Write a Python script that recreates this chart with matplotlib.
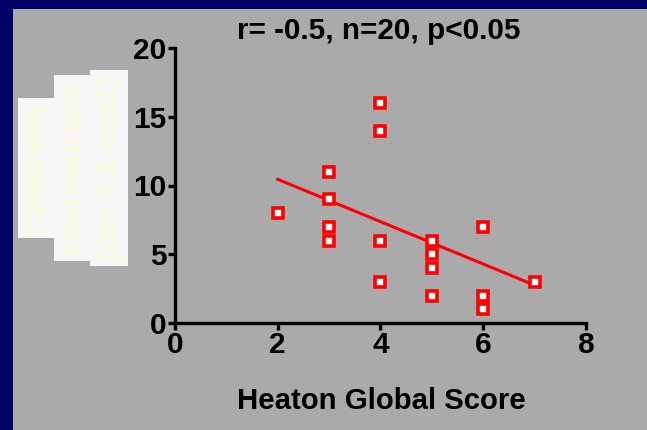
import matplotlib.pyplot as plt

plt.rcParams["font.family"] = ["Liberation Sans", "DejaVu Sans"]
plt.rcParams["font.weight"] = "bold"

heaton_score = [2, 3, 3, 3, 3, 4, 4, 4, 4, 5, 5, 5, 5, 6, 6, 6, 7]
calbindin = [8, 11, 9, 7, 6, 16, 14, 6, 3, 6, 5, 4, 2, 7, 2, 1, 3]
fit_x = [2, 7]
fit_y = [10.45, 2.75]
x_ticks = [0, 2, 4, 6, 8]
y_ticks = [0, 5, 10, 15, 20]
ylabel_lines = ["Calbindin", "Interneurons", "(per 0.1 mm2)"]

fig = plt.figure(figsize=(6.47, 4.30), dpi=100)
fig.patch.set_facecolor("#aaaaaa")
# navy frame on the top and left edges
fig.add_artist(plt.Rectangle((0, 1 - 9 / 430), 1, 9 / 430, transform=fig.transFigure,
                             facecolor="#000066", edgecolor="none"))
fig.add_artist(plt.Rectangle((0, 0), 13 / 647, 1, transform=fig.transFigure,
                             facecolor="#000066", edgecolor="none"))

ax = fig.add_axes([175 / 647, 1 - 323 / 430, 411 / 647, 275 / 430])
ax.set_facecolor("none")

ax.plot(fit_x, fit_y, color="red", lw=2.2, zorder=2)
ax.plot(heaton_score, calbindin, "s", ms=7.5, mfc="white", mec="red", mew=2.6,
        ls="none", zorder=3, clip_on=False)

ax.set_xlim(0, 8)
ax.set_ylim(0, 20)
ax.set_xticks(x_ticks, [str(t) for t in x_ticks], fontweight="bold", fontsize=21.5)
ax.set_yticks(y_ticks, [str(t) for t in y_ticks], fontweight="bold", fontsize=21.5)
for side in ["top", "right"]:
    ax.spines[side].set_visible(False)
for side in ["left", "bottom"]:
    ax.spines[side].set_linewidth(2.4)
ax.tick_params(width=2.4, length=5, pad=1)

fig.text(379 / 647, 1 - 31 / 430, "r= -0.5, n=20, p<0.05", ha="center", va="center",
         fontsize=21.3, fontweight="bold")
fig.text(381 / 647, 1 - 401 / 430, "Heaton Global Score", ha="center", va="center",
         fontsize=21.2, fontweight="bold")

for i, line in enumerate(ylabel_lines):
    fig.text((37 + 36 * i) / 647, 1 - 168 / 430, line, rotation=90, ha="center",
             va="center", fontsize=20.5, fontweight="bold", color="#fafadc",
             bbox=dict(facecolor="#f7f7f7", edgecolor="none", pad=4))

fig.savefig("out.png", dpi=100, facecolor=fig.get_facecolor())
